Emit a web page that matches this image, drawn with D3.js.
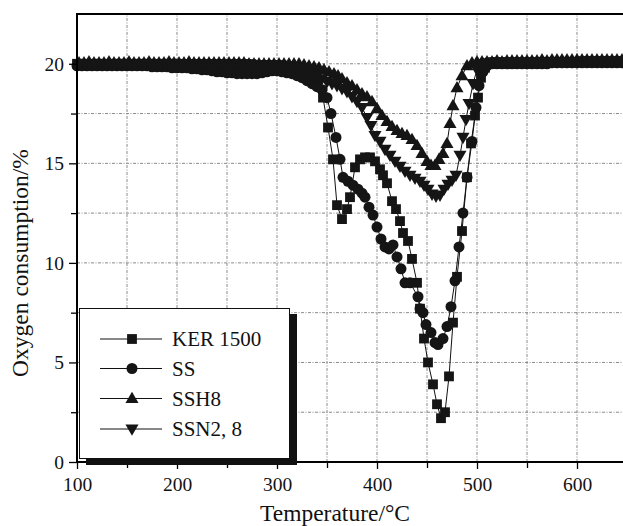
<!DOCTYPE html>
<html><head><meta charset="utf-8">
<script src="https://cdn.jsdelivr.net/npm/d3@7"></script>
<style>
html,body{margin:0;padding:0;background:#fff;}
svg{display:block;font-family:"Liberation Serif","Times New Roman",serif;}
svg text{font-family:"Liberation Serif","Times New Roman",serif;}
</style></head>
<body><svg id="chart" width="623" height="526"></svg>
<script>
const seriesNames = ["KER 1500", "SS", "SSH8", "SSN2, 8"];
const temperatureTicks = [100, 200, 300, 400, 500, 600];
const oxygenTicks = [0, 5, 10, 15, 20];

const ker1500 = [
[100,20.0],[105,20.0],[110,19.95],[115,20.0],[120,20.0],[125,20.0],[130,19.95],[135,20.0],[140,20.0],[145,20.0],[150,20.0],[155,19.95],[160,20.0],[165,20.0],[170,20.0],[175,20.0],[180,19.95],[185,20.0],[190,20.0],[195,20.0],[200,20.0],[205,19.95],[210,19.95],[215,19.95],[220,19.95],[225,19.95],[230,19.95],[235,19.9],[240,19.9],[245,19.9],[250,19.9],[255,19.9],[260,19.9],[265,19.9],[270,19.9],[275,19.9],[280,19.9],[285,19.9],[290,19.9],[295,19.9],[300,19.9],[305,19.9],[310,19.85],[315,19.8],[320,19.75],[325,19.65],[330,19.5],[335,19.3],[340,19.0],[346,18.3],[351,16.8],[356,15.2],[360,12.9],[365,12.2],[370,12.7],[373,13.3],[378,14.8],[383,15.2],[388,15.3],[393,15.3],[398,15.1],[403,14.7],[406,14.4],[410,14.0],[415,13.1],[419,12.7],[423,12.1],[426,11.5],[431,11.1],[435,10.2],[440,9.0],[443,7.7],[447,6.2],[451,5.0],[456,3.9],[460,2.9],[464,2.2],[468,2.5],[472,4.3],[476,7.0],[480,9.3],[485,11.6],[490,14.3],[494,16.0],[498,17.4],[501,18.3],[504,19.3],[508,19.8],[512,20.0],[517,20.0],[522,20.0],[527,20.0],[532,20.05],[537,20.0],[542,20.05],[547,20.05],[552,20.05],[557,20.05],[562,20.05],[567,20.1],[572,20.05],[577,20.1],[582,20.1],[587,20.1],[592,20.1],[597,20.1],[602,20.1],[607,20.1],[612,20.1],[617,20.1],[622,20.1],[627,20.1],[632,20.1],[637,20.1],[642,20.1],[647,20.1]
];

const ss = [
[100,19.9],[105,19.9],[110,19.9],[115,19.9],[120,19.9],[125,19.9],[130,19.9],[135,19.9],[140,19.9],[145,19.9],[150,19.9],[155,19.9],[160,19.9],[165,19.9],[170,19.9],[175,19.85],[180,19.85],[185,19.85],[190,19.85],[195,19.8],[200,19.8],[205,19.8],[210,19.8],[215,19.75],[220,19.75],[225,19.7],[230,19.7],[235,19.65],[240,19.6],[245,19.6],[250,19.55],[255,19.55],[260,19.5],[265,19.5],[270,19.5],[275,19.5],[280,19.5],[285,19.55],[290,19.6],[295,19.65],[300,19.65],[305,19.6],[310,19.55],[315,19.5],[320,19.4],[325,19.3],[330,19.15],[335,19.0],[340,18.85],[345,18.7],[350,18.3],[354,17.5],[359,16.3],[363,15.2],[366,14.3],[371,14.1],[376,13.9],[381,13.7],[385,13.5],[388,13.3],[392,12.8],[396,12.4],[400,11.8],[404,11.2],[408,10.8],[412,10.7],[416,10.9],[420,10.3],[424,9.7],[428,9.0],[433,9.0],[441,8.3],[443,7.7],[446,7.5],[449,6.9],[454,6.5],[458,6.0],[461,5.9],[466,6.2],[470,6.8],[474,7.8],[478,9.1],[482,10.8],[486,12.5],[490,14.3],[495,16.1],[499,17.8],[502,18.9],[506,19.6],[510,19.9],[515,20.0],[520,20.0],[525,20.0],[530,20.0],[535,20.0],[540,20.0],[545,20.0],[550,20.0],[555,20.0],[560,20.0],[565,20.0],[570,20.0],[575,20.05],[580,20.05],[585,20.05],[590,20.05],[595,20.05],[600,20.05],[605,20.05],[610,20.05],[615,20.05],[620,20.05],[625,20.05],[630,20.05],[635,20.05],[640,20.05],[645,20.05]
];

const ssh8 = [
[102,20.05],[107,20.05],[112,20.1],[117,20.05],[122,20.05],[127,20.05],[132,20.1],[137,20.05],[142,20.05],[147,20.05],[152,20.1],[157,20.05],[162,20.05],[167,20.05],[172,20.1],[177,20.05],[182,20.05],[187,20.05],[192,20.1],[197,20.05],[202,20.05],[207,20.05],[212,20.1],[217,20.05],[222,20.05],[227,20.05],[232,20.05],[237,20.05],[242,20.05],[247,20.05],[252,20.05],[257,20.05],[262,20.05],[267,20.05],[272,20.0],[277,20.0],[282,20.0],[287,20.0],[292,20.0],[297,20.0],[302,20.0],[307,20.0],[312,20.0],[317,20.0],[322,20.0],[327,19.95],[332,19.9],[337,19.85],[342,19.8],[347,19.7],[352,19.6],[357,19.5],[361,19.4],[365,19.25],[370,19.05],[375,18.9],[380,18.7],[385,18.5],[390,18.35],[395,18.1],[400,17.75],[405,17.4],[410,17.1],[415,16.85],[420,16.65],[425,16.5],[430,16.4],[435,16.2],[440,15.9],[445,15.5],[450,15.1],[454,14.9],[458,14.9],[462,15.2],[466,15.5],[470,16.0],[473,17.0],[476,17.9],[480,18.8],[485,19.4],[490,19.9],[495,20.05],[500,20.1],[505,20.1],[510,20.1],[515,20.1],[520,20.15],[525,20.1],[530,20.15],[535,20.15],[540,20.15],[545,20.15],[550,20.15],[555,20.15],[560,20.15],[565,20.2],[570,20.15],[575,20.2],[580,20.2],[585,20.2],[590,20.2],[595,20.2],[600,20.2],[605,20.2],[610,20.2],[615,20.2],[620,20.2],[625,20.2],[630,20.2],[635,20.2],[640,20.2],[645,20.2]
];

const ssn28 = [
[103,20.0],[108,20.0],[113,20.0],[118,20.0],[123,20.0],[128,20.0],[133,20.0],[138,20.0],[143,20.0],[148,20.0],[153,20.0],[158,20.0],[163,20.0],[168,20.0],[173,20.0],[178,20.0],[183,20.0],[188,20.0],[193,20.0],[198,20.0],[203,20.0],[208,20.0],[213,20.0],[218,20.0],[223,20.0],[228,20.0],[233,20.0],[238,20.0],[243,20.0],[248,20.0],[253,20.0],[258,20.0],[263,20.0],[268,20.0],[273,20.0],[278,19.95],[283,19.95],[288,19.95],[293,19.95],[298,19.95],[303,19.95],[308,19.9],[313,19.9],[318,19.85],[322,19.8],[326,19.75],[330,19.65],[335,19.5],[340,19.4],[345,19.25],[350,19.1],[355,19.0],[360,18.9],[365,18.75],[370,18.6],[375,18.35],[380,18.1],[385,17.8],[390,17.3],[394,16.9],[398,16.4],[403,16.1],[408,15.7],[413,15.4],[418,15.1],[423,14.85],[428,14.6],[433,14.4],[438,14.25],[443,14.1],[447,13.9],[451,13.7],[455,13.45],[459,13.35],[463,13.4],[467,13.7],[471,13.95],[475,14.15],[479,14.4],[483,15.4],[486,16.3],[489,17.2],[492,18.0],[496,19.0],[500,19.7],[505,20.0],[510,20.05],[515,20.1],[520,20.1],[525,20.1],[530,20.1],[535,20.1],[540,20.1],[545,20.1],[550,20.1],[555,20.1],[560,20.1],[565,20.1],[570,20.1],[575,20.1],[580,20.1],[585,20.1],[590,20.1],[595,20.1],[600,20.1],[605,20.15],[610,20.15],[615,20.15],[620,20.15],[625,20.15],[630,20.15],[635,20.15],[640,20.15],[645,20.15]
];

const seriesData = [ker1500, ss, ssh8, ssn28];
const seriesSymbols = ["square", "circle", "up", "down"];

const FONT = "Liberation Serif, Times New Roman, serif";
const svg = d3.select("#chart");
const margin = {left: 77, top: 14, right: -4, bottom: 64};
const W = 623, H = 526;
const x = d3.scaleLinear().domain([100, 650]).range([margin.left, W - margin.right]);
const y = d3.scaleLinear().domain([0, 22.5]).range([H - margin.bottom, margin.top]);

// grid
const gridX = d3.range(150, 651, 50);
const gridY = d3.range(2.5, 22.4, 2.5);
const grid = svg.append("g");
grid.selectAll("line.gx").data(gridX).join("line")
  .attr("x1", d => x(d)).attr("x2", d => x(d)).attr("y1", y(0)).attr("y2", y(22.5))
  .attr("stroke", "#8a8a8a").attr("stroke-width", 1).attr("stroke-dasharray", "3,1.5,1,1.5");
grid.selectAll("line.gy").data(gridY).join("line")
  .attr("x1", x(100)).attr("x2", W).attr("y1", d => y(d)).attr("y2", d => y(d))
  .attr("stroke", "#8a8a8a").attr("stroke-width", 1).attr("stroke-dasharray", "3,1.5,1,1.5");

// axes
const xAxis = d3.axisBottom(x).tickValues(temperatureTicks).tickSize(7).tickPadding(8);
const xMinor = d3.axisBottom(x).tickValues(d3.range(150, 651, 100)).tickSize(6).tickFormat("");
const yAxis = d3.axisLeft(y).tickValues(oxygenTicks).tickSize(8).tickPadding(5);
const yMinor = d3.axisLeft(y).tickValues([2.5, 7.5, 12.5, 17.5]).tickSize(6).tickFormat("");

function styleAxis(g) {
  g.attr("font-family", FONT);
  g.select(".domain").attr("stroke", "#000").attr("stroke-width", 2);
  g.selectAll(".tick line").attr("stroke", "#000").attr("stroke-width", 1.3);
  g.selectAll(".tick text").attr("fill", "#111").attr("font-size", 19.5)
    .style("font-family", FONT);
}
svg.append("g").attr("transform", `translate(0,${y(0)})`).call(xMinor).call(styleAxis).select(".domain").remove();
svg.append("g").attr("transform", `translate(${x(100)},0)`).call(yMinor).call(styleAxis).select(".domain").remove();

// top border
svg.append("line").attr("x1", x(100)).attr("x2", W).attr("y1", y(22.5)).attr("y2", y(22.5))
  .attr("stroke", "#000").attr("stroke-width", 2);

// series
const line = d3.line().x(d => x(d[0])).y(d => y(d[1]));
const sqSym = d3.symbol().type(d3.symbolSquare).size(96);
const ciSym = d3.symbol().type(d3.symbolCircle).size(95);
const trSym = d3.symbol().type(d3.symbolTriangle).size(74);
function drawMarker(g, kind, cx, cy) {
  let path;
  if (kind === "square") path = sqSym();
  else if (kind === "circle") path = ciSym();
  else path = trSym();
  const rot = kind === "down" ? " rotate(180)" : "";
  const dy = kind === "up" ? 0.8 : (kind === "down" ? -0.8 : 0);
  g.append("path").attr("d", path)
    .attr("transform", `translate(${cx},${cy + dy})${rot}`)
    .attr("fill", "#151515");
}

seriesData.forEach((data, i) => {
  const g = svg.append("g");
  g.append("path").datum(data).attr("d", line).attr("fill", "none").attr("stroke", "#111").attr("stroke-width", 1);
  data.forEach(d => drawMarker(g, seriesSymbols[i], x(d[0]), y(d[1])));
});

// axes on top
svg.append("g").attr("transform", `translate(0,${y(0)})`).call(xAxis).call(styleAxis)
  .select(".domain").attr("d", `M${x(100)},0H${W}`);
svg.append("g").attr("transform", `translate(${x(100)},0)`).call(yAxis).call(styleAxis)
  .select(".domain").attr("d", `M0,${y(0)+1}V${y(22.5)-1}`);

// legend
const lg = svg.append("g");
lg.append("rect").attr("x", 86).attr("y", 314).attr("width", 211).attr("height", 151).attr("fill", "#111");
lg.append("rect").attr("x", 79.5).attr("y", 308.5).attr("width", 210).attr("height", 150)
  .attr("fill", "#fff").attr("stroke", "#111").attr("stroke-width", 1);
const rowsY = [339, 368.5, 398.5, 429];
seriesNames.forEach((name, i) => {
  lg.append("line").attr("x1", 100).attr("x2", 162).attr("y1", rowsY[i]).attr("y2", rowsY[i])
    .attr("stroke", "#111").attr("stroke-width", 1);
  drawMarker(lg, seriesSymbols[i], 132, rowsY[i]);
  lg.append("text").attr("x", 172).attr("y", rowsY[i] + 7).attr("font-size", 21).attr("fill", "#111").text(name);
});

// axis titles
svg.append("text").attr("x", 335).attr("y", 521).attr("text-anchor", "middle")
  .attr("font-size", 23.5).attr("fill", "#111").text("Temperature/°C");
svg.append("text").attr("transform", "translate(28,263) rotate(-90)").attr("text-anchor", "middle")
  .attr("font-size", 23.5).attr("fill", "#111").text("Oxygen consumption/%");
</script>
</body></html>
